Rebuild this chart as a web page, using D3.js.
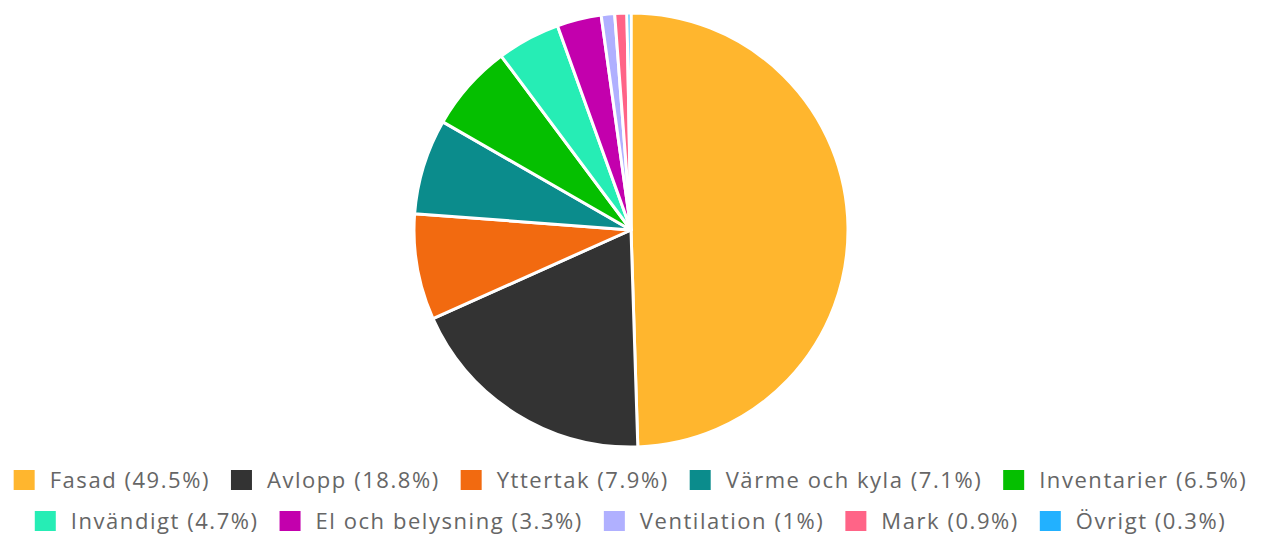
<!DOCTYPE html>
<html>
<head>
<meta charset="utf-8">
<script src="https://cdn.jsdelivr.net/npm/d3@7"></script>
<style>
  body { margin: 0; background: #fff; }
  text { font-family: "Open Sans", sans-serif; }
</style>
</head>
<body>
<div id="chart"></div>
<script>
var categories = ["Fasad", "Avlopp", "Yttertak", "Värme och kyla", "Inventarier",
  "Invändigt", "El och belysning", "Ventilation", "Mark", "Övrigt"]
var values = [49.5, 18.8, 7.9, 7.1, 6.5, 4.7, 3.3, 1, 0.9, 0.3]
var colors = ["#ffb62e", "#333333", "#f26a10", "#0b8c8c", "#05bf00",
  "#26edb5", "#c300ad", "#b0b0ff", "#ff6487", "#22b1ff"]

var width = 1261, height = 534
var cx = 631, cy = 230, radius = 217

var svg = d3.select("#chart")
  .append("svg")
  .attr("width", width)
  .attr("height", height)

var data = categories.map(function (c, i) {
  return { name: c, value: values[i], color: colors[i] }
})

var pie = d3.pie()
  .sort(null)
  .value(function (d) { return d.value })

var arc = d3.arc()
  .innerRadius(0)
  .outerRadius(radius)

svg.append("g")
  .attr("transform", "translate(" + cx + "," + cy + ")")
  .selectAll("path")
  .data(pie(data))
  .enter()
  .append("path")
  .attr("d", arc)
  .attr("fill", function (d) { return d.data.color })
  .attr("stroke", "#fff")
  .attr("stroke-width", 3)
  .attr("stroke-linejoin", "round")

// legend, wrapped into centered rows
var fontSize = 22, box = 20, boxGap = 16, itemGap = 21, maxRow = 1255
var rowY = [480, 521]

var legend = svg.append("g")
var items = legend.selectAll("g.item")
  .data(data)
  .enter()
  .append("g")
  .attr("class", "item")

items.append("rect")
  .attr("width", box + 1)
  .attr("height", box)
  .attr("fill", function (d) { return d.color })

items.append("text")
  .attr("x", box + boxGap)
  .attr("y", box / 2)
  .attr("dy", "0.35em")
  .attr("fill", "#666")
  .style("font-size", fontSize + "px")
  .style("letter-spacing", "1.55px")
  .text(function (d) { return d.name + " (" + d.value + "%)" })

var rows = [[]], rowW = [0]
items.each(function (d) {
  var w = box + boxGap + this.querySelector("text").getComputedTextLength()
  var r = rows.length - 1
  var add = rows[r].length ? itemGap + w : w
  if (rowW[r] + add > maxRow) {
    rows.push([]); rowW.push(0); r++; add = w
  }
  rows[r].push({ node: this, w: w })
  rowW[r] += add
})

rows.forEach(function (row, r) {
  var x = (width - rowW[r]) / 2
  row.forEach(function (it) {
    d3.select(it.node).attr("transform", "translate(" + x + "," + (rowY[r] - box / 2) + ")")
    x += it.w + itemGap
  })
})
</script>
</body>
</html>
